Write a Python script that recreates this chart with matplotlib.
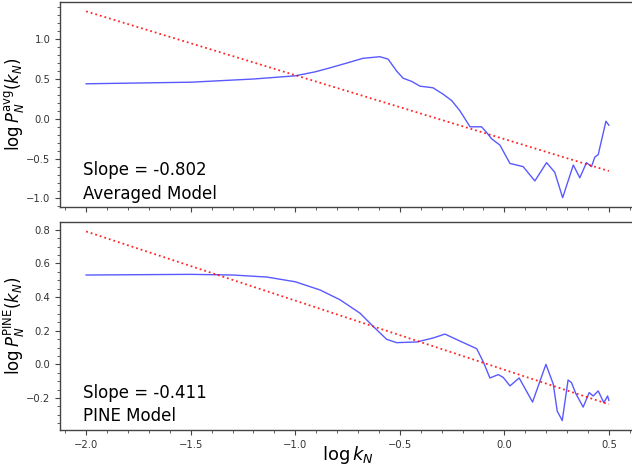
import numpy as np
import matplotlib.pyplot as plt

# log k_N and log P_N for the averaged model
k_avg = [-2.0, -1.5, -1.2, -1.0, -0.905, -0.834, -0.754, -0.676, -0.595, -0.556,
         -0.515, -0.484, -0.443, -0.403, -0.341, -0.293, -0.252, -0.212, -0.164,
         -0.109, -0.085, -0.061, -0.021, 0.027, 0.09, 0.146, 0.202, 0.241, 0.279,
         0.33, 0.361, 0.393, 0.417, 0.433, 0.449, 0.486, 0.5]
p_avg = [0.44, 0.46, 0.50, 0.54, 0.59, 0.64, 0.70, 0.76, 0.78, 0.75,
         0.60, 0.51, 0.47, 0.41, 0.39, 0.31, 0.23, 0.10, -0.10,
         -0.10, -0.17, -0.25, -0.33, -0.56, -0.60, -0.78, -0.55, -0.67, -0.99,
         -0.58, -0.74, -0.55, -0.60, -0.48, -0.45, -0.03, -0.08]

# log k_N and log P_N for the PINE model
k_pine = [-2.0, -1.5, -1.297, -1.136, -1.0, -0.881, -0.786, -0.69, -0.634, -0.563,
          -0.515, -0.419, -0.34, -0.284, -0.22, -0.132, -0.1, -0.069, -0.029,
          -0.005, 0.027, 0.071, 0.135, 0.199, 0.234, 0.253, 0.277, 0.305, 0.321,
          0.342, 0.377, 0.406, 0.425, 0.449, 0.476, 0.494, 0.5]
p_pine = [0.531, 0.535, 0.531, 0.519, 0.491, 0.442, 0.384, 0.304, 0.234, 0.149,
          0.129, 0.133, 0.157, 0.18, 0.143, 0.093, 0.013, -0.081, -0.061,
          -0.078, -0.128, -0.081, -0.224, 0.0, -0.117, -0.278, -0.334, -0.093, -0.108,
          -0.174, -0.254, -0.168, -0.188, -0.158, -0.228, -0.188, -0.214]

# linear fits
slope_avg, icept_avg = -0.802, -0.254
slope_pine, icept_pine = -0.411, -0.032

models = [
    (k_avg, p_avg, slope_avg, icept_avg, r'$\log P_N^{\rm avg}(k_N)$', 'Averaged Model'),
    (k_pine, p_pine, slope_pine, icept_pine, r'$\log P_N^{\rm PINE}(k_N)$', 'PINE Model'),
]

fig = plt.figure(figsize=(6.32, 4.70), dpi=100)
ax_top = fig.add_axes([60/632, 263/470, 575/632, 205/470])
ax_bot = fig.add_axes([60/632, 40/470, 575/632, 208/470], sharex=ax_top)

for ax, (k, p, m, b, ylab, name) in zip([ax_top, ax_bot], models):
    k = np.array(k)
    ax.plot(k, p, color='blue', alpha=0.65, lw=1.0)
    ax.plot(k, m*k + b, color='red', ls=':', lw=1.3, alpha=0.85)
    ax.text(0.04, 0.18, 'Slope = %.3f' % m, transform=ax.transAxes,
            fontsize=12, va='center', ha='left')
    ax.text(0.04, 0.065, name, transform=ax.transAxes,
            fontsize=12, va='center', ha='left')
    ax.set_ylabel(ylab, fontsize=12)
    ax.yaxis.set_label_coords(-0.058, 0.5)
    ax.minorticks_on()
    ax.tick_params(which='both', direction='out', colors='#444444',
                   labelsize=7.2, labelcolor='#333333')
    ax.tick_params(which='major', length=3.5, width=0.8)
    ax.tick_params(which='minor', length=2, width=0.6)
    for s in ax.spines.values():
        s.set_color('#444444')
        s.set_linewidth(1.0)
    # right edge falls just outside the picture
    ax.spines['right'].set_visible(False)

ax_top.tick_params(labelbottom=False)
ax_bot.set_xlabel(r'$\log k_N$', fontsize=13, labelpad=-4)

fig.savefig('out.png', dpi=100)
